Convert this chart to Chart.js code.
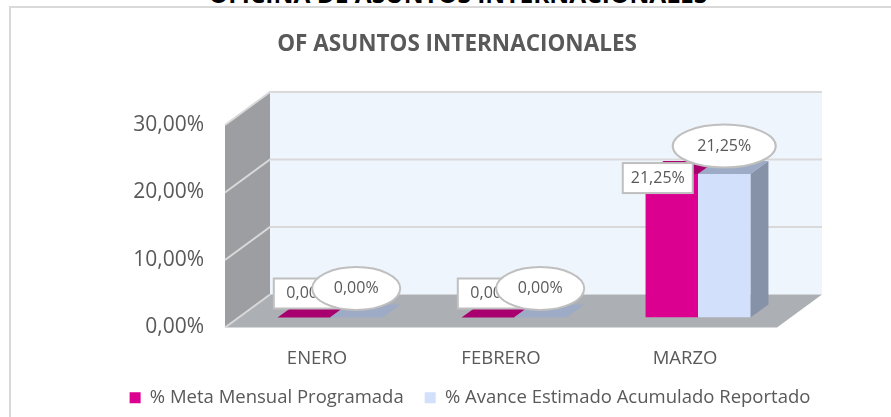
<!DOCTYPE html>
<html><head><meta charset="utf-8">
<script src="https://cdn.jsdelivr.net/npm/chart.js@4"></script>
<style>
html,body{margin:0;padding:0;background:#fff;overflow:hidden;width:891px;height:417px}
#wrap{position:relative;width:891px;height:417px;overflow:hidden}
canvas{position:absolute;left:0;top:0}
#clip{position:absolute;left:0;right:0;top:-23px;text-align:center;padding-left:25px;font:bold 24.5px "Open Sans",sans-serif;color:#000;white-space:nowrap}
</style></head><body>
<div id="wrap"><div id="clip">OFICINA DE ASUNTOS INTERNACIONALES</div><canvas id="c" width="891" height="417"></canvas></div>
<script>
const categories = ['ENERO','FEBRERO','MARZO'];
const seriesNames = ['% Meta Mensual Programada','% Avance Estimado Acumulado Reportado'];
const metaValues = [0, 0, 21.25];
const avanceValues = [0, 0, 21.25];
const yTicks = [0, 10, 20, 30];
const titleText = 'OF ASUNTOS INTERNACIONALES';
const fmt = v => v.toFixed(2).replace('.', ',') + '%';

const DX = 45, DY = -33, BDX = 13, BDY = -10, SDX = 18, SDY = -13;
const GRAY = '#595959', LINE = '#d9d9d9';
const metaLabelOffset = [[5,-24],[5,-24],[-14,4]];
const avanceEllipse = [[88,-29],[88,-29],[103,-28]];

function poly(ctx, pts, fill, stroke){
  ctx.beginPath(); pts.forEach((p,i)=> i?ctx.lineTo(p[0],p[1]):ctx.moveTo(p[0],p[1])); ctx.closePath();
  ctx.fillStyle=fill; ctx.fill();
  if(stroke){ctx.strokeStyle=stroke;ctx.lineWidth=1;ctx.stroke();}
}
const box3d = {
  id:'box3d',
  afterLayout(chart){
    chart.titleBlock.left += 68.5; chart.titleBlock.right += 68.5;
    chart.legend.left += 81.5; chart.legend.right += 81.5;
  },
  beforeDraw(chart){
    const {ctx,width,height}=chart;
    ctx.save();
    ctx.fillStyle='#fff'; ctx.fillRect(9,6,width,height);
    ctx.fillStyle=LINE; ctx.fillRect(9,6,width,2); ctx.fillRect(9,6,2,height);
    ctx.restore();
  },
  beforeDatasetsDraw(chart){
    const {ctx,scales:{x,y}}=chart;
    const L=x.left,R=x.right,T=y.getPixelForValue(30),B=y.getPixelForValue(0);
    ctx.save();
    poly(ctx,[[L+DX,T+DY],[R+DX,T+DY],[R+DX,B+DY],[L+DX,B+DY]],'#eef5fc');
    poly(ctx,[[L,T],[L+DX,T+DY],[L+DX,B+DY],[L,B]],'#9c9ea2');
    poly(ctx,[[L,B],[L+DX,B+DY],[R+DX,B+DY],[R,B]],'#acafb3');
    ctx.strokeStyle=LINE; ctx.lineWidth=2;
    yTicks.forEach(v=>{
      const p=y.getPixelForValue(v);
      ctx.beginPath(); ctx.moveTo(L,p); ctx.lineTo(L+DX,p+DY);
      if(v>0) ctx.lineTo(R+DX,p+DY);
      ctx.stroke();
    });
    const colors=[['#a8006e','#a8006e'],['#9dabc6','#8692a8']];
    [0,1].forEach(d=>{
      chart.getDatasetMeta(d).data.forEach(b=>{
        const l=b.x-b.width/2+BDX,r=b.x+b.width/2+BDX,t=b.y+BDY,bt=b.base+BDY;
        poly(ctx,[[l,t],[l+SDX,t+SDY],[r+SDX,t+SDY],[r,t]],colors[d][0]);
        poly(ctx,[[r,t],[r+SDX,t+SDY],[r+SDX,bt+SDY],[r,bt]],colors[d][1]);
      });
    });
    ctx.restore();
    ctx.save(); ctx.translate(BDX,BDY);
  },
  afterDatasetsDraw(chart){
    const {ctx}=chart;
    ctx.restore();
    ctx.save();
    ctx.font='16px "Open Sans",sans-serif';
    ctx.textAlign='center'; ctx.textBaseline='middle';
    chart.getDatasetMeta(0).data.forEach((b,i)=>{
      const cx=b.x+BDX+metaLabelOffset[i][0], cy=b.y+BDY+metaLabelOffset[i][1];
      ctx.fillStyle='#fff'; ctx.strokeStyle='#bfbfbf'; ctx.lineWidth=2;
      ctx.fillRect(cx-35,cy-15,70,30); ctx.strokeRect(cx-35,cy-15,70,30);
      ctx.fillStyle=GRAY; ctx.fillText(fmt(metaValues[i]),cx,cy);
    });
    chart.getDatasetMeta(1).data.forEach((b,i)=>{
      const cx=b.x+BDX, cy=b.y+BDY+avanceEllipse[i][1], w=avanceEllipse[i][0];
      ctx.beginPath(); ctx.ellipse(cx,cy,w/2,21.5,0,0,Math.PI*2);
      ctx.fillStyle='#fff'; ctx.fill(); ctx.strokeStyle='#bfbfbf'; ctx.lineWidth=2; ctx.stroke();
      ctx.fillStyle=GRAY; ctx.fillText(fmt(avanceValues[i]),cx,cy);
    });
    ctx.restore();
  }
};

new Chart(document.getElementById('c'),{
  type:'bar',
  data:{labels:categories,datasets:[
    {label:seriesNames[0],data:metaValues,backgroundColor:'#dc0090',categoryPercentage:0.57,barPercentage:1},
    {label:seriesNames[1],data:avanceValues,backgroundColor:'#d2e0fc',categoryPercentage:0.57,barPercentage:1}
  ]},
  plugins:[box3d],
  options:{
    responsive:false,animation:false,devicePixelRatio:1,
    layout:{padding:{left:0,right:114,top:0,bottom:0}},
    plugins:{
      tooltip:{enabled:false},
      title:{display:true,text:titleText,color:GRAY,font:{family:'"Open Sans",sans-serif',size:22.5,weight:'bold',lineHeight:1.2},padding:{top:31.5,bottom:66.5}},
      legend:{position:'bottom',labels:{color:GRAY,boxWidth:11,boxHeight:11,padding:21,font:{family:'"Open Sans",sans-serif',size:18.5}}}
    },
    scales:{
      x:{grid:{display:false},border:{display:false},
        ticks:{color:GRAY,padding:12,font:{family:'"Open Sans",sans-serif',size:18.5},maxRotation:0},
        afterFit(s){s.height=40;}},
      y:{min:0,max:30,grid:{display:false},border:{display:false},
        afterBuildTicks(s){s.ticks=yTicks.map(v=>({value:v}));},
        ticks:{color:GRAY,padding:13,font:{family:'"Open Sans",sans-serif',size:21},callback:v=>fmt(v)},
        afterFit(s){s.width=225;}}
    }
  }
});
</script>
</body></html>
